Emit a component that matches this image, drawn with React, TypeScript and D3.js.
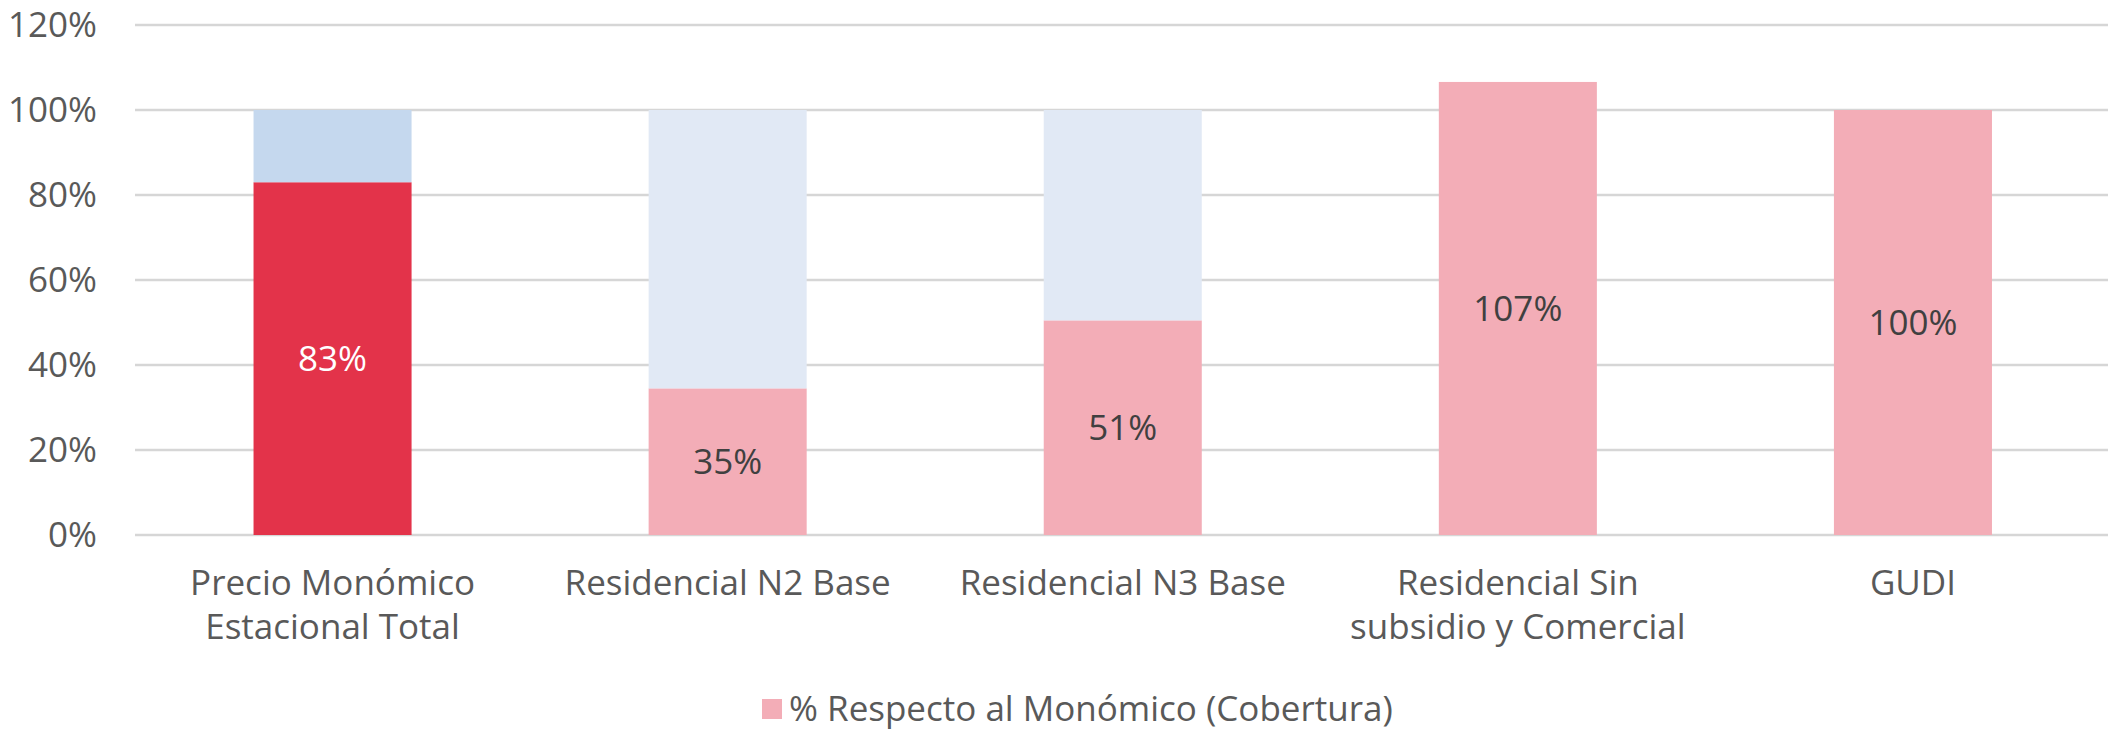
import React from "react";
import * as d3 from "d3";

const categories: string[][] = [
  ["Precio Monómico", "Estacional Total"],
  ["Residencial N2 Base"],
  ["Residencial N3 Base"],
  ["Residencial Sin", "subsidio y Comercial"],
  ["GUDI"],
];
const coverage = [0.83, 0.345, 0.505, 1.066, 1.0];
const coverageLabels = ["83%", "35%", "51%", "107%", "100%"];
const remainder = [0.17, 0.655, 0.495, 0, 0];
const coverageColors = ["#E3334A", "#F3ADB7", "#F3ADB7", "#F3ADB7", "#F3ADB7"];
const remainderColors = ["#C5D8EE", "#E1E9F5", "#E1E9F5", "#E1E9F5", "#E1E9F5"];
const labelColors = ["#FFFFFF", "#404040", "#404040", "#404040", "#404040"];
const yTicks = [0, 0.2, 0.4, 0.6, 0.8, 1.0, 1.2];
const legendLabel = "% Respecto al Monómico (Cobertura)";

const W = 2108;
const H = 731;
const FONT = "'Open Sans', sans-serif";

export default function App() {
  const x = d3
    .scaleBand<number>()
    .domain(d3.range(categories.length))
    .range([135, 2110.5])
    .paddingInner(0.6)
    .paddingOuter(0.3);
  const y = d3.scaleLinear().domain([0, 1.2]).range([535, 25]);
  const fmt = d3.format(".0%");
  const bw = x.bandwidth();

  return (
    <svg
      width={W}
      height={H}
      style={{ position: "absolute", left: 0, top: 0, background: "#fff" }}
      fontFamily={FONT}
    >
      {yTicks.map((t) => (
        <g key={t}>
          <line x1={135} x2={W} y1={y(t)} y2={y(t)} stroke="#D6D6D6" strokeWidth={2.7} />
          <text x={97} y={y(t) + 11.5} textAnchor="end" fontSize={35} fill="#595959">
            {fmt(t)}
          </text>
        </g>
      ))}
      {categories.map((c, i) => {
        const x0 = x(i)!;
        const cx = x0 + bw / 2;
        return (
          <g key={i}>
            <rect
              x={x0}
              width={bw}
              y={y(coverage[i])}
              height={y(0) - y(coverage[i])}
              fill={coverageColors[i]}
            />
            {remainder[i] > 0 && (
              <rect
                x={x0}
                width={bw}
                y={y(coverage[i] + remainder[i])}
                height={y(coverage[i]) - y(coverage[i] + remainder[i])}
                fill={remainderColors[i]}
              />
            )}
            <text
              x={cx}
              y={(y(0) + y(coverage[i])) / 2 + 12.5}
              textAnchor="middle"
              fontSize={35}
              fill={labelColors[i]}
            >
              {coverageLabels[i]}
            </text>
            {c.map((line, k) => (
              <text
                key={k}
                x={cx}
                y={595 + k * 44}
                textAnchor="middle"
                fontSize={35}
                fill="#595959"
              >
                {line}
              </text>
            ))}
          </g>
        );
      })}
      <rect x={762} y={699} width={20} height={20} fill="#F3ADB7" />
      <text x={789} y={721} fontSize={35} fill="#595959">
        {legendLabel}
      </text>
    </svg>
  );
}
